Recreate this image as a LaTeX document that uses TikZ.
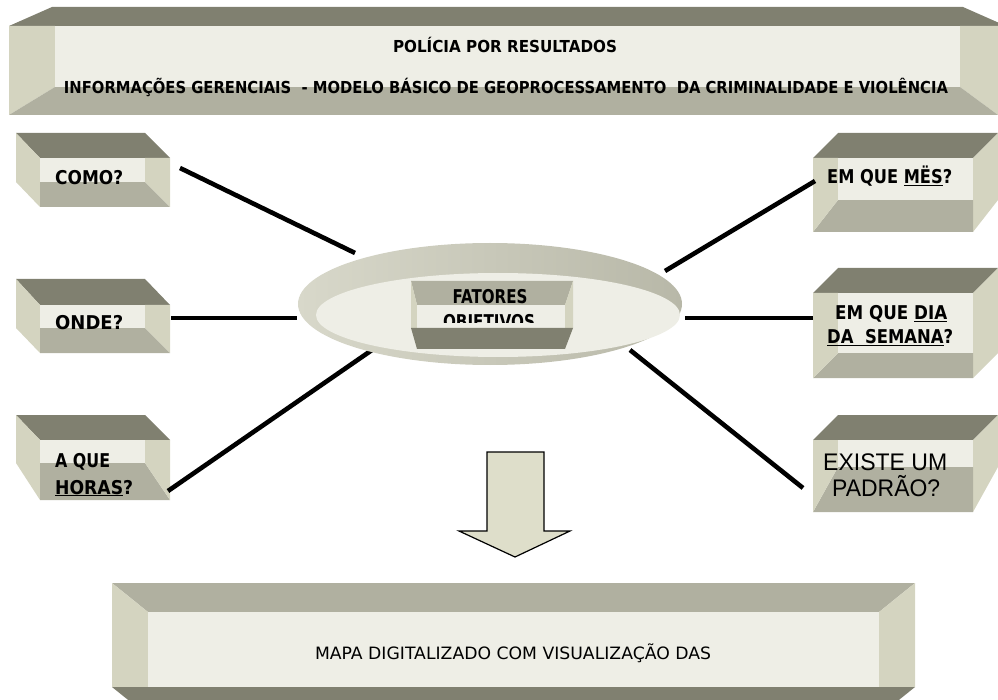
\documentclass[tikz,border=0pt]{standalone}
\usepackage{fontspec}
\setmainfont{DejaVu Sans}
\newfontfamily\arialf{Liberation Sans}
\usepackage{graphicx}
\definecolor{bdark}{RGB}{128,128,112}
\definecolor{bmed}{RGB}{176,176,160}
\definecolor{blight}{RGB}{212,212,192}
\definecolor{bface}{RGB}{238,238,230}
\definecolor{arrowfill}{RGB}{222,222,202}
\definecolor{ringL}{RGB}{216,216,202}
\definecolor{ringR}{RGB}{184,184,168}
\newcommand\fitw[2]{\resizebox{#1}{\height}{#2}}
% left 3D box: #1 top, #2 face top, #3 face bottom, #4 bottom
\newcommand\myLbox[4]{%
  \fill[bdark] (16,#1)--(145,#1)--(170,#2)--(40,#2)--cycle;
  \fill[blight] (16,#1)--(40,#2)--(40,#4)--(16,#3)--cycle;
  \fill[bmed] (40,#3)--(145,#3)--(170,#4)--(40,#4)--cycle;
  \fill[blight] (145,#2)--(170,#2)--(170,#4)--(145,#3)--cycle;
  \fill[bface] (40,#2) rectangle (145,#3);
}
% right 3D box
\newcommand\myRbox[4]{%
  \fill[bdark] (838,#1)--(998,#1)--(973,#2)--(813,#2)--cycle;
  \fill[blight] (998,#1)--(973,#2)--(973,#4)--(998,#3)--cycle;
  \fill[bmed] (973,#3)--(838,#3)--(813,#4)--(973,#4)--cycle;
  \fill[blight] (838,#2)--(813,#2)--(813,#4)--(838,#3)--cycle;
  \fill[bface] (838,#2) rectangle (973,#3);
}
\begin{document}
\begin{tikzpicture}[x=1pt,y=-1pt,
  conn/.style={line width=4.6pt, black},
  lbl/.style={inner sep=0pt, anchor=base west, font=\bfseries\fontsize{19}{22}\selectfont},
  ctr/.style={inner sep=0pt, anchor=base},
  ban/.style={inner sep=0pt, anchor=base, font=\bfseries\fontsize{16.5}{19}\selectfont},
  big/.style={inner sep=0pt, anchor=base west, font=\arialf\fontsize{24}{28}\selectfont}]
\useasboundingbox (0,0) rectangle (998,700);
\begin{scope}
\clip (0,0) rectangle (998,700);

% ---------- banner ----------
\fill[bdark] (52,7)--(963,7)--(1006,26)--(9,26)--cycle;
\fill[blight] (9,26)--(55,26)--(55,87)--(9,115)--cycle;
\fill[blight] (960,26)--(1006,26)--(1006,115)--(998,115)--(960,87)--cycle;
\fill[bmed] (55,87)--(960,87)--(998,115)--(9,115)--cycle;
\fill[bface] (55,26) rectangle (960,87);
\node[ban] (title1) at (505,53) {\fitw{224pt}{POLÍCIA POR RESULTADOS}};
\node[ban] (title2) at (506,94) {\fitw{884pt}{INFORMAÇÕES GERENCIAIS \ - MODELO BÁSICO DE GEOPROCESSAMENTO \ DA CRIMINALIDADE E VIOLÊNCIA}};

% ---------- side boxes ----------
\myLbox{133}{158}{182}{207}
\myLbox{279}{305}{328}{353}
\myLbox{415}{440}{463}{500}
\myRbox{133}{158}{200}{232}
\myRbox{268}{293}{353}{378}
\myRbox{415}{440}{467}{512}

\node[lbl] (como) at (55,185) {\fitw{68pt}{COMO?}};
\node[lbl] (onde) at (55,330) {\fitw{68pt}{ONDE?}};
\node[lbl] (aque) at (55,467) {\fitw{55pt}{A QUE}};
\node[lbl] (horas) at (55,494) {\fitw{78pt}{\underline{HORAS}?}};
\node[lbl] (mes) at (827,184) {\fitw{125pt}{EM QUE \underline{MËS}?}};
\node[lbl] (dia) at (835,320) {\fitw{112pt}{EM QUE \underline{DIA}}};
\node[lbl] (semana) at (827,344) {\fitw{126pt}{\underline{DA \ SEMANA}?}};
\node[big] (existe) at (823,470.5) {\fitw{124pt}{EXISTE UM}};
\node[big] (padrao) at (832,496.5) {\fitw{108pt}{PADRÃO?}};

% ---------- connectors ----------
\coordinate (c1) at (180,168); \coordinate (h1) at (355,253);
\coordinate (c2) at (171,318); \coordinate (h2) at (297,318);
\coordinate (c3) at (168,491); \coordinate (h3) at (372,350);
\coordinate (c4) at (815,181); \coordinate (h4) at (665,271);
\coordinate (c5) at (813,318); \coordinate (h5) at (685,318);
\coordinate (c6) at (803,488); \coordinate (h6) at (630,350);
\draw[conn] (c1) -- (h1);
\draw[conn] (c2) -- (h2);
\draw[conn] (c3) -- (h3);
\draw[conn] (c4) -- (h4);
\draw[conn] (c5) -- (h5);
\draw[conn] (c6) -- (h6);

% ---------- central dish ----------
\path[left color=ringL, right color=ringR] (490,304) ellipse [x radius=192pt, y radius=61pt];
\fill[bface] (498,315) ellipse [x radius=182pt, y radius=42pt];

\fill[bmed] (411,281)--(573,281)--(565,305)--(417,305)--cycle;
\fill[blight] (411,281)--(417,305)--(417,328)--(411,328)--cycle;
\fill[blight] (573,281)--(565,305)--(565,328)--(573,328)--cycle;
\fill[bface] (417,305) rectangle (565,328);
\node[ctr, font=\bfseries\fontsize{19}{22}\selectfont] (fatores) at (490,304) {\fitw{75pt}{FATORES}};
\begin{scope}
\clip (417,305) rectangle (565,323);
\node[ctr, font=\bfseries\fontsize{19}{22}\selectfont] (objetivos) at (489,329) {\fitw{92pt}{OBJETIVOS}};
\end{scope}
\fill[bdark] (411,328)--(573,328)--(565,349)--(417,349)--cycle;

% ---------- arrow ----------
\draw[fill=arrowfill, line width=1.2pt, line join=miter] (487,452)--(544,452)--(544,531)--(570,531)--(515,557)--(459,531)--(487,531)--cycle;

% ---------- bottom box ----------
\fill[bmed] (112,583)--(915,583)--(879,612)--(148,612)--cycle;
\fill[blight] (112,583)--(148,612)--(148,687)--(112,687)--cycle;
\fill[blight] (915,583)--(915,687)--(879,687)--(879,612)--cycle;
\fill[bdark] (112,687)--(915,687)--(879,716)--(148,716)--cycle;
\fill[bface] (148,612) rectangle (879,687);
\node[ctr, font=\fontsize{17}{20}\selectfont] (mapa) at (513,659) {\fitw{396pt}{MAPA DIGITALIZADO COM VISUALIZAÇÃO DAS}};
\end{scope}
\end{tikzpicture}
\end{document}
